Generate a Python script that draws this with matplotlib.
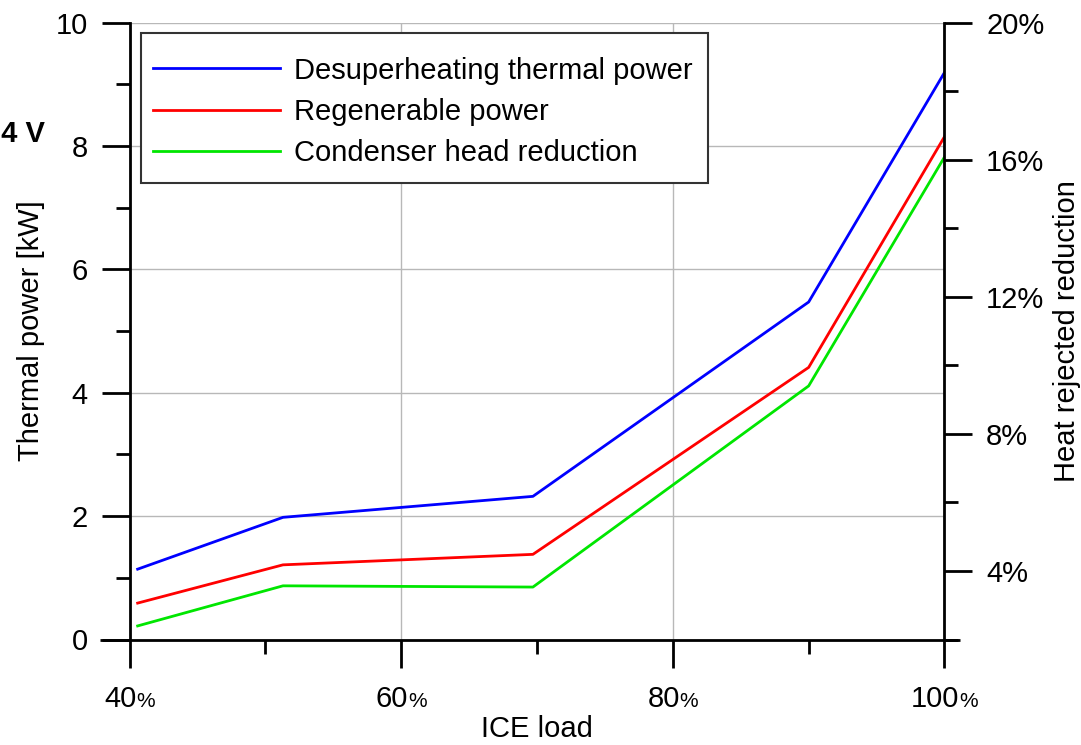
import matplotlib
matplotlib.use("Agg")
import matplotlib.pyplot as plt
from matplotlib.offsetbox import AnnotationBbox, HPacker, TextArea
from matplotlib.patches import Rectangle
from matplotlib.ticker import MultipleLocator

# ICE load [%] and the three series (thermal powers in kW)
ice_load = [40.6, 51.3, 69.7, 90.0, 100.0]
desuperheating = [1.14, 1.98, 2.32, 5.47, 9.19]
regenerable = [0.59, 1.21, 1.38, 4.41, 8.15]
condenser_head = [0.22, 0.87, 0.85, 4.11, 7.82]

series_labels = ["Desuperheating thermal power", "Regenerable power", "Condenser head reduction"]
series_colors = ["#0000ff", "#ff0000", "#00e600"]

x_major = [40, 60, 80, 100]
right_major = [4, 8, 12, 16, 20]

FS = 21
W, H = 1081, 745
plt.rcParams["font.family"] = ["Liberation Sans", "DejaVu Sans"]
plt.rcParams["font.size"] = FS

fig = plt.figure(figsize=(W / 100, H / 100), dpi=100)
L, R, B, T = 129.5, 944.5, 639.5, 22.5  # axes frame in pixels
ax = fig.add_axes([L / W, 1 - B / H, (R - L) / W, (B - T) / H])


def ax_frac(px, py):
    """pixel position (from top-left) -> axes fraction"""
    return (px - L) / (R - L), (B - py) / (B - T)


for ys, lab, col in zip([desuperheating, regenerable, condenser_head], series_labels, series_colors):
    ax.plot(ice_load, ys, color=col, lw=2.0, label=lab)

ax.set_xlim(40, 100)
ax.set_ylim(0, 10)
ax.xaxis.set_major_locator(MultipleLocator(20))
ax.xaxis.set_minor_locator(MultipleLocator(10))
ax.yaxis.set_major_locator(MultipleLocator(2))
ax.yaxis.set_minor_locator(MultipleLocator(1))
ax.grid(True, which="major", color="#b8b8b8", lw=1.0)
ax.set_axisbelow(True)

for s in ["top", "right", "bottom"]:
    ax.spines[s].set_visible(False)
ax.spines["left"].set_linewidth(2.0)
ax.tick_params(axis="both", which="major", length=20, width=2.0, direction="out", pad=10)
ax.tick_params(axis="both", which="minor", length=10, width=2.0, direction="out")
ax.set_xticklabels([])

# x axis line runs a little past both spines
x0, _ = ax_frac(100, 0)
x1, _ = ax_frac(960, 0)
ax.plot([x0, x1], [0, 0], transform=ax.transAxes, color="black", lw=2.0,
        clip_on=False, solid_capstyle="butt", zorder=5)

# x tick labels with a smaller percent sign
for v in x_major:
    box = HPacker(children=[TextArea(f"{v}", textprops=dict(size=FS)),
                            TextArea("%", textprops=dict(size=15))],
                  align="baseline", pad=0, sep=0)
    ab = AnnotationBbox(box, (v, 0), xybox=(0, -33), xycoords="data",
                        boxcoords="offset points", box_alignment=(0.5, 1),
                        frameon=False, annotation_clip=False)
    ax.add_artist(ab)

ax.set_ylabel("Thermal power [kW]", va="center")
ax.yaxis.set_label_coords(*ax_frac(31, 0)[:1], 0.5)
ax.set_xlabel("ICE load", va="center")
ax.xaxis.set_label_coords(0.5, ax_frac(0, 729)[1])

# right axis: heat rejected reduction
ax2 = ax.twinx()
ax2.set_ylim(2, 20)
ax2.set_yticks(right_major)
ax2.set_yticklabels([f"{v}%" for v in right_major])
ax2.yaxis.set_minor_locator(MultipleLocator(2))
for s in ["top", "left", "bottom"]:
    ax2.spines[s].set_visible(False)
ax2.spines["right"].set_linewidth(2.0)
ax2.tick_params(axis="y", which="major", length=20, width=2.0, direction="out", pad=10)
ax2.tick_params(axis="y", which="minor", length=10, width=2.0, direction="out")
ax2.set_ylabel("Heat rejected reduction", va="center", rotation=90)
ax2.yaxis.set_label_coords(ax_frac(1067, 0)[0], 0.5)

# legend entries without frame, frame drawn as its own rectangle
leg = ax2.legend(*ax.get_legend_handles_labels(), loc="center left",
                 bbox_to_anchor=ax_frac(153, 112), borderaxespad=0, borderpad=0,
                 handlelength=4.35, handletextpad=0.5, labelspacing=0.46,
                 frameon=False, fontsize=FS)
leg.set_zorder(11)
fx0, fy1 = ax_frac(141, 33)
fx1, fy0 = ax_frac(708, 183)
ax2.add_patch(Rectangle((fx0, fy0), fx1 - fx0, fy1 - fy0, transform=ax2.transAxes,
                        facecolor="white", edgecolor="#333333", lw=1.5, zorder=10))

fig.text(45 / W, 1 - 134 / H, "24 V", ha="right", va="center",
         weight="bold", size=FS)

fig.savefig("out.png", dpi=100)
